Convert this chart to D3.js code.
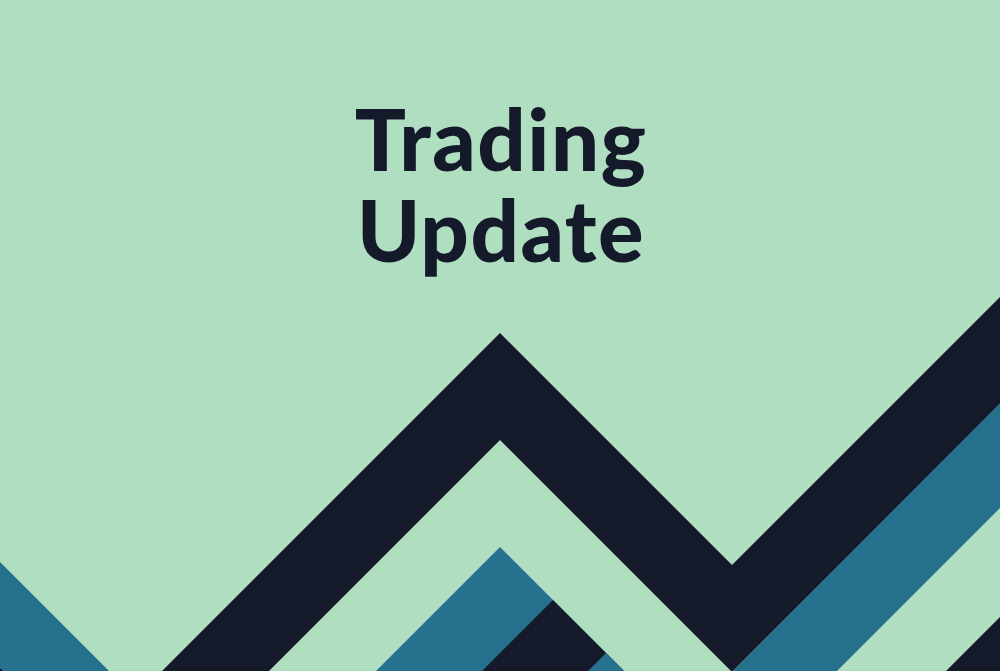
<!DOCTYPE html>
<html>
<head>
<meta charset="utf-8">
<script src="https://cdn.jsdelivr.net/npm/d3@7"></script>
<style>
    html, body { margin: 0; padding: 0; background: #b0dec0; }
    svg { display: block; }
</style>
</head>
<body>
<div id="chart"></div>
<script>
/* global d3 */
// title, one entry per line
var titleLines = ["Trading", "Update"];

// ridge lines: [x, height above bottom edge], each filled down to the bottom
var mainRidge = [[-100, -262], [500, 338], [732, 106], [1100, 474]],
    mainRidgeLow = [[-100, -369], [500, 231], [732, -1], [1100, 367]],
    rightStep1 = [[732, -1], [1100, 368]],
    rightStep2 = [[837, 0], [1100, 263]],
    rightStep3 = [[946, 0], [1100, 154]],
    peak1 = [[330, -46], [500, 124], [720, -96]],
    peak2 = [[440, -42], [553, 71], [720, -96]],
    peak3 = [[560, -28], [606, 18], [720, -96]],
    corner1 = [[-50, 159], [160, -51]],
    corner2 = [[-50, 53], [60, -57]];

// paint order, bottom first
var layers = [
    { ridge: mainRidge, tone: "navy" },
    { ridge: mainRidgeLow, tone: "mint" },
    { ridge: rightStep1, tone: "teal" },
    { ridge: rightStep2, tone: "mint" },
    { ridge: rightStep3, tone: "navy" },
    { ridge: peak1, tone: "teal" },
    { ridge: peak2, tone: "navy" },
    { ridge: peak3, tone: "teal" },
    { ridge: corner1, tone: "teal" },
    { ridge: corner2, tone: "navy" }
];

var tones = {
    mint: "#b0dec0",
    navy: "#141a2a",
    teal: "#26728e"
};

(function () {
    "use strict";

    var width = 1000,
        height = 671,
        x = d3.scaleLinear().domain([0, 1000]).range([0, width]),
        y = d3.scaleLinear().domain([0, 671]).range([height, 0]),
        svg,
        area;

    svg = d3.select("#chart")
        .append("svg")
        .attr("width", width)
        .attr("height", height)
        .style("overflow", "hidden");

    svg.append("rect")
        .attr("width", width)
        .attr("height", height)
        .attr("fill", tones.mint);

    area = d3.area()
        .x(function (d) { return x(d[0]); })
        .y0(y(-200))
        .y1(function (d) { return y(d[1]); })
        .curve(d3.curveLinear);

    svg.append("g")
        .attr("class", "ridges")
        .selectAll("path")
        .data(layers)
        .enter()
        .append("path")
        .attr("d", function (d) { return area(d.ridge); })
        .attr("fill", function (d) { return tones[d.tone]; });

    // one tspan per line keeps the two lines in a single text block
    var title = svg.append("text")
        .attr("class", "title")
        .attr("text-anchor", "middle")
        .attr("font-family", "Lato, 'Noto Sans', sans-serif")
        .attr("font-weight", 900)
        .attr("font-size", 85)
        .attr("letter-spacing", 1.5)
        .attr("fill", tones.navy);

    title.selectAll("tspan")
        .data(titleLines)
        .enter()
        .append("tspan")
        .attr("x", width / 2 + 1)
        .attr("y", function (d, i) { return 171 + i * 91; })
        .text(function (d) { return d; });
}());
</script>
</body>
</html>
